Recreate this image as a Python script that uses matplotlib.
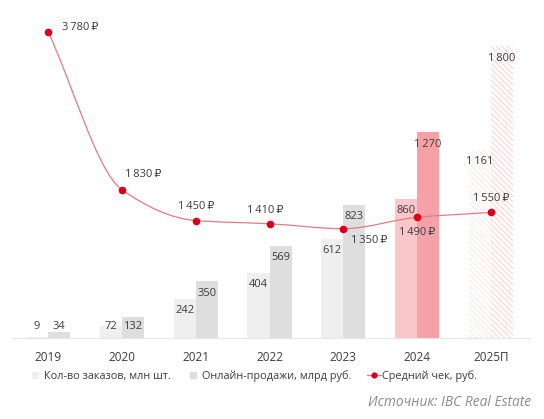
import numpy as np
import matplotlib
matplotlib.use("Agg")
import matplotlib.pyplot as plt
from matplotlib.path import Path
from matplotlib.patches import PathPatch
from matplotlib.lines import Line2D

plt.rcParams['font.family'] = ['Open Sans', 'DejaVu Sans']
plt.rcParams['hatch.linewidth'] = 0.7

years = ['2019', '2020', '2021', '2022', '2023', '2024', '2025П']
orders = [9, 72, 242, 404, 612, 860, 1161]          # млн шт.
sales = [34, 132, 350, 569, 823, 1270, 1800]        # млрд руб.
avg_check = [3780, 1830, 1450, 1410, 1350, 1490, 1550]  # руб.

# label placement for the average check: (dx px, dy px, ha)
check_offsets = [(14, 4, 'left'), (3, 15, 'left'), (0, 14, 'center'),
                 (-4, 13, 'center'), (8, -12, 'left'), (0, -15, 'center'),
                 (0, 14, 'center')]

txt = '#3c3c3c'
gray1 = '#efefef'
gray2 = '#dededf'
pink1 = '#f9c6ca'
pink2 = '#f5a1a7'
red = '#d9001b'


def fmt(v):
    return f'{v:,}'.replace(',', '\u2009')


fig = plt.figure(figsize=(5.44, 4.19), dpi=100)
ax = fig.add_axes([12 / 544, 81 / 419, 518 / 544, 318 / 419])
ax2 = ax.twinx()

x = np.arange(len(years))
w = 0.3
c1 = [gray1] * 5 + [pink1, 'white']
c2 = [gray2] * 5 + [pink2, 'white']
b1 = ax.bar(x - w / 2, orders, w, color=c1, linewidth=0)
b2 = ax.bar(x + w / 2, sales, w, color=c2, linewidth=0)
b1[-1].set_hatch('\\\\\\\\\\\\')
b1[-1].set_edgecolor('#fde6e8')
b2[-1].set_hatch('\\\\\\\\\\\\')
b2[-1].set_edgecolor('#f9d0d3')

ymax = 1963
ax.set_ylim(0, ymax)
ax2.set_ylim(0, ymax * 2)
ax.set_xlim(-0.49, 6.53)

for xi, v in zip(x, orders):
    ax.text(xi - w / 2, max(v - 74, 68), fmt(v), ha='center', va='center',
            fontsize=8, color=txt)
for xi, v in zip(x, sales):
    ax.text(xi + w / 2, max(v - 74, 68), fmt(v), ha='center', va='center',
            fontsize=8, color=txt)

# smooth monotone curve through the average check points
xs = x.astype(float)
ys = np.array(avg_check, dtype=float)
d = np.diff(ys) / np.diff(xs)
m = np.zeros_like(ys)
m[0], m[-1] = d[0], d[-1]
for k in range(1, len(ys) - 1):
    if d[k - 1] * d[k] > 0:
        m[k] = 2 / (1 / d[k - 1] + 1 / d[k])
verts = [(xs[0], ys[0])]
codes = [Path.MOVETO]
for k in range(len(ys) - 1):
    h = xs[k + 1] - xs[k]
    verts += [(xs[k] + h / 3, ys[k] + m[k] * h / 3),
              (xs[k + 1] - h / 3, ys[k + 1] - m[k + 1] * h / 3),
              (xs[k + 1], ys[k + 1])]
    codes += [Path.CURVE4] * 3
ax2.add_patch(PathPatch(Path(verts, codes), fill=False, edgecolor='#e27b83',
                        linewidth=0.9))
ax2.plot(xs, ys, 'o', color=red, markersize=4.5, linestyle='none')

for xi, v, (dx, dy, ha) in zip(x, avg_check, check_offsets):
    ax2.annotate(fmt(v) + '\u2009₽', (xi, v), xytext=(dx * 0.72, dy * 0.72),
                 textcoords='offset points', ha=ha, va='center',
                 fontsize=8, color=txt)

for a in (ax, ax2):
    for s in ('top', 'right', 'left'):
        a.spines[s].set_visible(False)
    a.set_yticks([])
ax2.spines['bottom'].set_visible(False)
ax.spines['bottom'].set_color('#e6e6e6')
ax.spines['bottom'].set_linewidth(0.8)
ax.set_xticks(x)
ax.set_xticklabels(years, fontsize=8.5, color=txt)
ax.tick_params(axis='x', length=0, pad=9)

handles = [Line2D([], [], marker='s', color=gray1, linestyle='none', markersize=4),
           Line2D([], [], marker='s', color=gray2, linestyle='none', markersize=4),
           Line2D([], [], marker='o', color='#e27b83', markerfacecolor=red,
                  markeredgecolor=red, markersize=3.5, linewidth=0.9)]
labels = ['Кол-во заказов, млн шт.', 'Онлайн-продажи, млрд руб.', 'Средний чек, руб.']
fig.legend(handles, labels, loc='center left', bbox_to_anchor=(28 / 544, 1 - 376 / 419),
           ncol=3, frameon=False, fontsize=7.8, handlelength=1.3, handletextpad=0.15,
           columnspacing=1.45, borderpad=0, borderaxespad=0, labelcolor=txt)

fig.text(531 / 544, 1 - 402 / 419, 'Источник: IBC Real Estate', ha='right', va='center',
         fontsize=9.9, style='italic', color='#8c8c8c')

fig.savefig('out.png', dpi=100)
